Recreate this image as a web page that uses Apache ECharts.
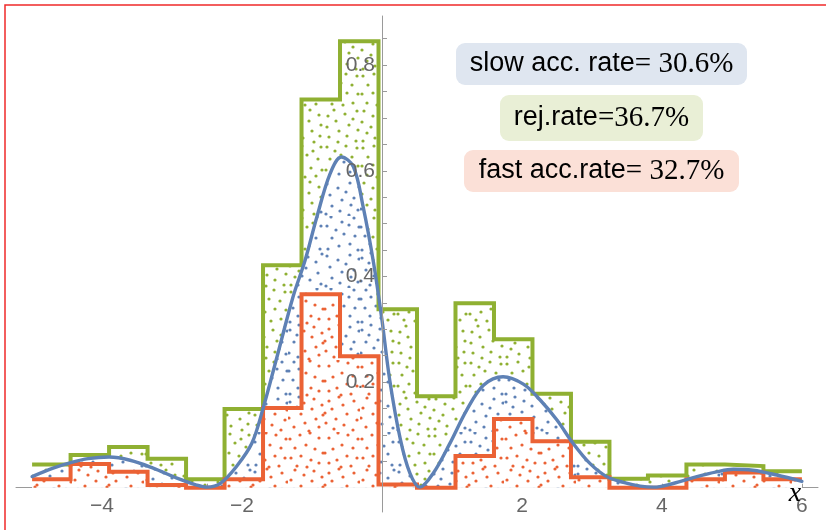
<!DOCTYPE html>
<html>
<head>
<meta charset="utf-8">
<script src="https://cdn.jsdelivr.net/npm/echarts@6/dist/echarts.min.js"></script>
<style>
html,body{margin:0;padding:0;background:#fff;}
#c{width:826px;height:530px;}
</style>
</head>
<body>
<div id="c"></div>
<script>
// ---- data ----
const binEdges = [-5, -4.45, -3.9, -3.35, -2.8, -2.25, -1.7, -1.15, -0.6, -0.05, 0.5, 1.05, 1.6, 2.15, 2.7, 3.25, 3.8, 4.35, 4.9, 5.45, 6.0];
const rejectHeights = [0.044, 0.062, 0.077, 0.055, 0.016, 0.149, 0.421, 0.735, 0.845, 0.338, 0.173, 0.349, 0.281, 0.178, 0.087, 0.017, 0.023, 0.044, 0.041, 0.031];
const fastHeights = [0.016, 0.045, 0.030, 0.005, 0.0, 0.016, 0.151, 0.366, 0.249, 0.006, 0.0, 0.060, 0.130, 0.088, 0.020, 0.0, 0.0, 0.016, 0.029, 0.016];
const curveX = [-5.0, -4.7, -4.46, -4.2, -3.9, -3.6, -3.27, -2.93, -2.65, -2.5, -2.31, -2.08, -1.86, -1.7, -1.5, -1.27, -1.1, -0.93, -0.74, -0.58, -0.41, -0.27, -0.12, 0.0, 0.11, 0.26, 0.4, 0.54, 0.73, 0.97, 1.21, 1.45, 1.73, 2.02, 2.26, 2.5, 2.73, 2.97, 3.21, 3.45, 3.69, 3.88, 4.16, 4.5, 4.78, 5.02, 5.3, 5.64, 6.0];
const curveY = [0.021, 0.037, 0.047, 0.055, 0.058, 0.052, 0.037, 0.018, 0.005, 0.001, 0.008, 0.040, 0.084, 0.150, 0.248, 0.362, 0.430, 0.513, 0.595, 0.626, 0.608, 0.532, 0.425, 0.317, 0.204, 0.093, 0.027, 0.001, 0.027, 0.084, 0.147, 0.194, 0.210, 0.196, 0.166, 0.128, 0.084, 0.046, 0.021, 0.010, 0.003, 0.001, 0.008, 0.021, 0.030, 0.035, 0.033, 0.024, 0.012];
const xTickValues = [-5, -4.5, -4, -3.5, -3, -2.5, -2, -1.5, -1, -0.5, 0.5, 1, 1.5, 2, 2.5, 3, 3.5, 4, 4.5, 5, 5.5, 6];
const xLabelValues = [-4, -2, 2, 4, 6];
const yTickValues = [0.05, 0.1, 0.15, 0.2, 0.25, 0.3, 0.35, 0.4, 0.45, 0.5, 0.55, 0.6, 0.65, 0.7, 0.75, 0.8, 0.85];
const yLabelValues = [0.2, 0.4, 0.6, 0.8];
const boxTexts = [
  ['slow acc. rate', '= 30.6%'],
  ['rej.rate', '=36.7%'],
  ['fast acc.rate', '= 32.7%']
];

// ---- styles / layout ----
const GREEN = '#8fb032', BLUE = '#5e81b5', RED = '#eb6235';
const X_MIN = -5.23, X_MAX = 6.23, Y_MIN = -0.046, Y_MAX = 0.893;
const G = { left: 16, right: 8, top: 16, bottom: 18 };
const W = 826, H = 530;
const gw = W - G.left - G.right, gh = H - G.top - G.bottom;
// shift the axes so they cross at the origin (axis offset measured inward)
const yAxisOffset = -((0 - X_MIN) / (X_MAX - X_MIN)) * gw;
const xAxisOffset = -((0 - Y_MIN) / (Y_MAX - Y_MIN)) * gh;

function stepData(edges, h) {
  const d = h.map((v, i) => [edges[i], v]);
  d.push([edges[edges.length - 1], h[h.length - 1]]);
  return d;
}
const curveData = curveX.map((x, i) => [x, curveY[i]]);

// dotted fill texture: a 72px tile made of four transformed copies of a 36px dot layout
function makeTile(color, dots, bg) {
  const S = 36, c = document.createElement('canvas');
  c.width = 2 * S; c.height = 2 * S;
  const g = c.getContext('2d');
  if (bg) { g.fillStyle = bg; g.fillRect(0, 0, 2 * S, 2 * S); }
  g.fillStyle = color;
  const put = (x, y) => { g.beginPath(); g.arc(x, y, 1.6, 0, Math.PI * 2); g.fill(); };
  dots.forEach(p => {
    put(p[0], p[1]);                 // top-left: as is
    put(S + (S - p[0]), p[1]);       // top-right: mirrored
    put(p[1], S + p[0]);             // bottom-left: transposed
    put(S + (S - p[1]), S + (S - p[0])); // bottom-right: transposed + mirrored
  });
  return c;
}
const gDots = [[3,4],[14,2],[25,7],[33,3],[8,13],[19,11],[30,15],[2,22],[13,21],[23,24],[34,26],[7,31],[17,33],[28,32]];
const bDots = [[6,2],[18,6],[29,1],[1,11],[11,9],[24,14],[33,10],[5,20],[16,18],[28,22],[10,28],[21,30],[32,33],[2,34]];
const rDots = [[2,7],[12,3],[22,1],[31,6],[7,16],[18,13],[27,17],[35,21],[3,26],[13,24],[23,28],[31,31],[9,34],[19,35]];
const gPat = { image: makeTile(GREEN, gDots, null), repeat: 'repeat' };
const bPat = { image: makeTile(BLUE, bDots, '#ffffff'), repeat: 'repeat' };
const rPat = { image: makeTile(RED, rDots, '#ffffff'), repeat: 'repeat' };

const chart = echarts.init(document.getElementById('c'), null, { renderer: 'canvas' });
const fmt = v => String(v).replace('-', '\u2212');

const boxes = [
  { x: 456, y: 43, w: 291, h: 42, bg: '#dfe6f0' },
  { x: 500, y: 95, w: 203, h: 46, bg: '#e9efd6' },
  { x: 464, y: 150, w: 275, h: 42, bg: '#fbe0d7' }
];
const graphics = [
  { type: 'rect', shape: { x: 5, y: 5, width: 840, height: 540 }, style: { fill: null, stroke: '#f02a2a', lineWidth: 1.5 }, z: 100, silent: true }
];
boxes.forEach((b, i) => {
  graphics.push({ type: 'rect', shape: { x: b.x, y: b.y, width: b.w, height: b.h, r: 9 }, style: { fill: b.bg }, z: 50 });
  graphics.push({
    type: 'text', x: b.x + b.w / 2, y: b.y + b.h / 2, z: 51,
    style: {
      text: '{s|' + boxTexts[i][0] + '}{m|' + boxTexts[i][1] + '}',
      align: 'center', verticalAlign: 'middle',
      rich: {
        s: { fontFamily: 'Liberation Sans', fontSize: 27, fill: '#000' },
        m: { fontFamily: 'Liberation Serif', fontSize: 29, fill: '#000' }
      }
    }
  });
});
graphics.push({ type: 'text', x: 795, y: 494, z: 60, style: { text: 'x', fontFamily: 'Liberation Serif', fontStyle: 'italic', fontSize: 28, fill: '#000', align: 'center', verticalAlign: 'middle' } });

chart.setOption({
  animation: false,
  grid: { left: G.left, right: G.right, top: G.top, bottom: G.bottom, containLabel: false, outerBoundsMode: 'none' },
  xAxis: {
    type: 'value', min: X_MIN, max: X_MAX, z: 1, position: 'bottom', offset: xAxisOffset,
    axisLine: { onZero: false, lineStyle: { color: '#9a9a9a', width: 1 } },
    axisTick: { show: true, inside: true, length: 4, customValues: xTickValues, lineStyle: { color: '#9a9a9a' } },
    axisLabel: { customValues: xLabelValues, formatter: fmt, color: '#666', fontSize: 21, fontFamily: 'Liberation Sans', margin: 8 },
    splitLine: { show: false }
  },
  yAxis: {
    type: 'value', min: Y_MIN, max: Y_MAX, z: 10, position: 'left', offset: yAxisOffset,
    axisLine: { show: true, onZero: false, lineStyle: { color: '#9a9a9a', width: 1 } },
    axisTick: { show: true, inside: true, length: 5, customValues: yTickValues, lineStyle: { color: '#9a9a9a' } },
    axisLabel: { customValues: yLabelValues, color: '#666', fontSize: 21, fontFamily: 'Liberation Sans', margin: 7 },
    splitLine: { show: false }
  },
  graphic: graphics,
  series: [
    { type: 'line', data: stepData(binEdges, rejectHeights), step: 'end', showSymbol: false, z: 2,
      lineStyle: { width: 0 }, areaStyle: { color: gPat, opacity: 1 }, silent: true },
    { type: 'line', data: curveData, smooth: 0.35, showSymbol: false, z: 3,
      lineStyle: { width: 0 }, areaStyle: { color: bPat, opacity: 1 }, silent: true },
    { type: 'line', data: stepData(binEdges, fastHeights), step: 'end', showSymbol: false, z: 4,
      lineStyle: { width: 0 }, areaStyle: { color: rPat, opacity: 1 }, silent: true },
    { type: 'line', data: stepData(binEdges, rejectHeights), step: 'end', showSymbol: false, z: 5,
      lineStyle: { color: GREEN, width: 4, join: 'miter', cap: 'butt' }, silent: true },
    { type: 'line', data: stepData(binEdges, fastHeights), step: 'end', showSymbol: false, z: 6,
      lineStyle: { color: RED, width: 4, join: 'miter', cap: 'butt' }, silent: true },
    { type: 'line', data: curveData, smooth: 0.35, showSymbol: false, z: 7,
      lineStyle: { color: BLUE, width: 3.4, join: 'round', cap: 'round' }, silent: true }
  ]
});
</script>
</body>
</html>
